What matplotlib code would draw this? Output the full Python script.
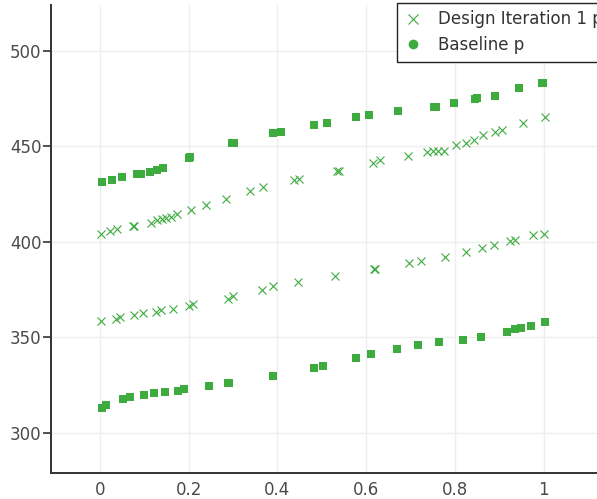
import matplotlib
matplotlib.use("Agg")
import matplotlib.pyplot as plt
from matplotlib.lines import Line2D

# Baseline p, upper and lower branches
base_hi_x = [0.004, 0.027, 0.051, 0.083, 0.092, 0.114, 0.128, 0.143, 0.200, 0.204,
             0.298, 0.302, 0.389, 0.409, 0.482, 0.511, 0.578, 0.607, 0.671, 0.752,
             0.757, 0.797, 0.845, 0.849, 0.890, 0.945, 0.995, 0.999]
base_hi_y = [431.2, 432.5, 434.0, 435.4, 435.6, 436.8, 437.8, 438.5, 443.8, 444.2,
             451.8, 452.0, 456.9, 457.7, 461.4, 462.4, 465.2, 466.6, 468.3, 470.4,
             470.7, 472.8, 474.9, 475.1, 476.5, 480.3, 483.1, 483.4]
base_lo_x = [0.004, 0.014, 0.052, 0.068, 0.100, 0.122, 0.147, 0.176, 0.190, 0.246,
             0.288, 0.292, 0.390, 0.482, 0.502, 0.577, 0.610, 0.670, 0.716, 0.765,
             0.818, 0.858, 0.918, 0.935, 0.948, 0.971, 1.003]
base_lo_y = [312.9, 314.7, 317.9, 319.0, 319.9, 321.1, 321.2, 322.1, 322.9, 324.8,
             326.0, 326.3, 330.0, 333.9, 335.1, 339.1, 341.2, 344.1, 346.2, 347.8,
             348.7, 350.1, 353.0, 354.3, 354.8, 356.0, 358.3]

# Design Iteration 1 p, upper and lower branches
des_hi_x = [0.002, 0.024, 0.038, 0.074, 0.078, 0.116, 0.128, 0.139, 0.149, 0.161,
            0.173, 0.206, 0.239, 0.284, 0.338, 0.367, 0.438, 0.449, 0.534, 0.538,
            0.616, 0.631, 0.695, 0.737, 0.751, 0.762, 0.775, 0.802, 0.824, 0.842,
            0.863, 0.891, 0.905, 0.953, 1.002]
des_hi_y = [404.0, 405.8, 406.8, 408.4, 408.1, 410.1, 411.5, 412.2, 412.6, 413.2,
            414.5, 416.8, 419.1, 422.7, 426.7, 428.8, 432.5, 433.1, 436.9, 437.2,
            441.5, 442.8, 445.1, 447.1, 447.6, 447.6, 447.5, 450.8, 452.0, 453.4,
            455.7, 457.6, 458.6, 462.1, 465.6]
des_lo_x = [0.002, 0.036, 0.045, 0.078, 0.098, 0.127, 0.137, 0.164, 0.202, 0.209,
            0.288, 0.300, 0.366, 0.390, 0.447, 0.530, 0.617, 0.620, 0.697, 0.723,
            0.777, 0.825, 0.862, 0.887, 0.925, 0.935, 0.975, 1.000]
des_lo_y = [358.6, 359.7, 360.5, 361.6, 362.5, 363.5, 364.1, 365.0, 366.3, 367.4,
            370.3, 371.4, 375.0, 376.8, 378.9, 382.0, 385.7, 386.0, 389.0, 390.0,
            392.3, 394.5, 396.7, 398.4, 400.2, 401.0, 403.7, 404.2]

xticks = [0, 0.2, 0.4, 0.6, 0.8, 1]
xtick_labels = ["0", "0.2", "0.4", "0.6", "0.8", "1"]
yticks = [300, 350, 400, 450, 500]

green = "#3dab3d"
plt.rcParams["font.family"] = "DejaVu Sans"

fig = plt.figure(figsize=(5.97, 4.99), dpi=100)
ax = fig.add_axes([51 / 597, 26 / 499, 546 / 597, 468 / 499])

for xs, ys in [(base_hi_x, base_hi_y), (base_lo_x, base_lo_y)]:
    ax.plot(xs, ys, linestyle="none", marker="s", markersize=6.2,
            color=green, markeredgewidth=0, zorder=3)
for xs, ys in [(des_hi_x, des_hi_y), (des_lo_x, des_lo_y)]:
    ax.plot(xs, ys, linestyle="none", marker="x", markersize=6,
            color=green, markeredgewidth=0.8, zorder=3)

ax.set_xlim(-0.11, 1.12)
ax.set_ylim(279, 524)
ax.set_xticks(xticks)
ax.set_xticklabels(xtick_labels)
ax.set_yticks(yticks)
ax.grid(True, color="#eeeeee", linewidth=1)
ax.set_axisbelow(True)

for side in ["top", "right"]:
    ax.spines[side].set_visible(False)
for side in ["left", "bottom"]:
    ax.spines[side].set_color("#333333")
    ax.spines[side].set_linewidth(1.4)

ax.tick_params(axis="y", length=6, width=1.2, color="#333333",
               labelsize=12, labelcolor="#4a4a4a", pad=1)
ax.tick_params(axis="x", length=0, labelsize=12, labelcolor="#4a4a4a", pad=6)

handles = [
    Line2D([], [], linestyle="none", marker="x", markersize=7,
           color=green, markeredgewidth=0.8),
    Line2D([], [], linestyle="none", marker="o", markersize=7,
           color=green, markeredgewidth=0),
]
fig.legend(handles, ["Design Iteration 1 p", "Baseline p"],
           loc="upper left", bbox_to_anchor=(397 / 597, 1 - 3 / 499),
           frameon=True, fancybox=False, edgecolor="#222222",
           framealpha=1, fontsize=12, labelcolor="#333333",
           handlelength=1.0, handletextpad=1.0,
           borderpad=0.45, labelspacing=0.45, borderaxespad=0)

fig.savefig("out.png", dpi=100)
